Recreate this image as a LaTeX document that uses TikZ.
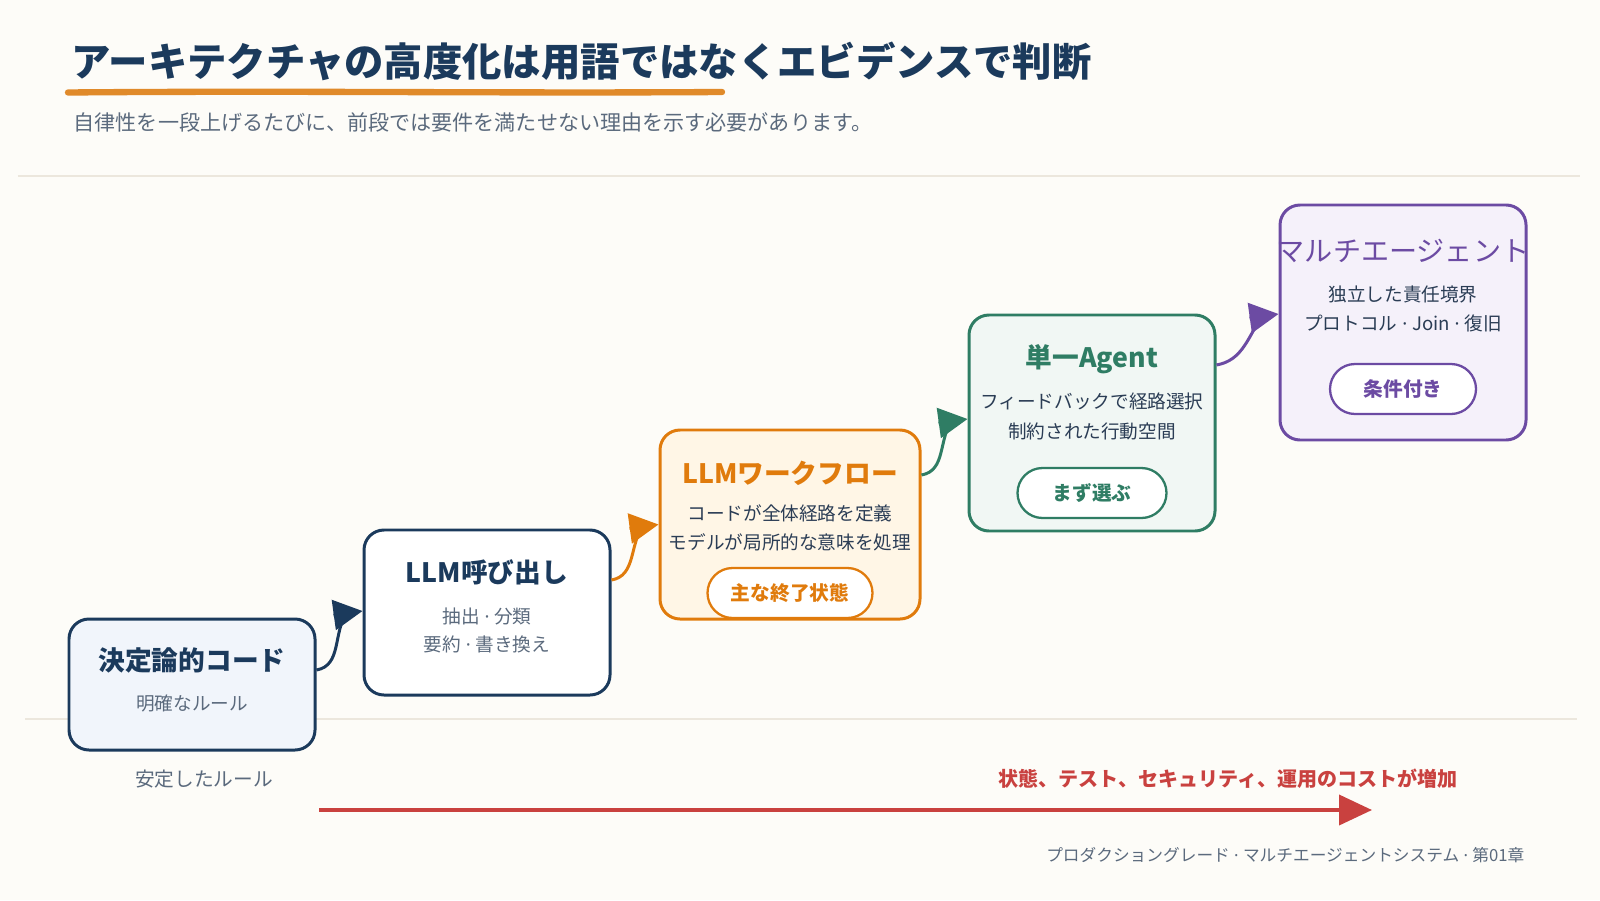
\documentclass[tikz,border=0pt]{standalone}
\usepackage{fontspec}
\setmainfont{Noto Sans CJK JP}
\newfontfamily\latinfont{Noto Sans}
\usetikzlibrary{arrows.meta}

\definecolor{bgpaper}{HTML}{FDFCF8}
\definecolor{navy}{HTML}{1B3A5C}
\definecolor{slate}{HTML}{5B6A7D}
\definecolor{inkblue}{HTML}{2B3D55}
\definecolor{amber}{HTML}{E07B0C}
\definecolor{amberfill}{HTML}{FFF6E6}
\definecolor{pine}{HTML}{2F7D64}
\definecolor{pinefill}{HTML}{F1F7F4}
\definecolor{grape}{HTML}{6C4BA3}
\definecolor{grapefill}{HTML}{F5F1FA}
\definecolor{icefill}{HTML}{F1F5FB}
\definecolor{brick}{HTML}{C9413F}
\definecolor{rulegray}{HTML}{ECE7DD}
\definecolor{brush}{HTML}{E08A2A}

\newcommand{\sep}{{\latinfont\ ·\ }}

\tikzset{
  stage/.style={draw,line width=0.85pt,rounded corners=2mm,minimum width=2.46cm},
  stagetitle/.style={font=\fontsize{7.6}{9}\selectfont\bfseries},
  stagetext/.style={font=\fontsize{5.3}{6.5}\selectfont},
  pill/.style={draw,fill=white,line width=0.65pt,rounded corners=2.5mm,minimum height=0.5cm,
    font=\fontsize{5.6}{7}\selectfont\bfseries},
  link/.style={line width=0.85pt},
  linkhead/.style={line width=0.85pt,-{Triangle[length=2.9mm,width=3mm]}},
}

\begin{document}
\begin{tikzpicture}
  \fill[bgpaper] (0,0) rectangle (16,9);
  \useasboundingbox (0,0) rectangle (16,9);

  % heading
  \node[anchor=west,inner sep=0,text=navy,font=\fontsize{11.2}{13}\selectfont\bfseries] (heading) at (0.71,8.39)
    {アーキテクチャの高度化は用語ではなくエビデンスで判断};
  \draw[brush,line width=1.8pt,line cap=round] (0.68,8.075) .. controls (3,8.095) and (5,8.065) .. (7.22,8.08);
  \node[anchor=west,inner sep=0,text=slate,font=\fontsize{6}{7}\selectfont] (lede) at (0.73,7.78)
    {自律性を一段上げるたびに、前段では要件を満たせない理由を示す必要があります。};
  \draw[rulegray,line width=0.5pt] (0.18,7.24) -- (15.80,7.24);
  \draw[rulegray,line width=0.5pt] (0.25,1.81) -- (15.77,1.81);

  % stages
  \node[stage,draw=navy,fill=icefill,minimum height=1.31cm] (code) at (1.92,2.155) {};
  \node[stagetitle,text=navy] (codeT) at (1.92,2.40) {決定論的コード};
  \node[stagetext,text=slate] (codeA) at (1.92,1.97) {明確なルール};

  \node[stage,draw=navy,fill=white,minimum height=1.65cm] (call) at (4.87,2.875) {};
  \node[stagetitle,text=navy] (callT) at (4.87,3.28) {LLM呼び出し};
  \node[stagetext,text=slate] (callA) at (4.87,2.84) {抽出\sep 分類};
  \node[stagetext,text=slate] (callB) at (4.87,2.56) {要約\sep 書き換え};

  \node[stage,draw=amber,fill=amberfill,minimum width=2.6cm,minimum height=1.89cm] (flow) at (7.90,3.755) {};
  \node[stagetitle,text=amber] (flowT) at (7.90,4.27) {LLMワークフロー};
  \node[stagetext,text=inkblue] (flowA) at (7.90,3.87) {コードが全体経路を定義};
  \node[stagetext,text=inkblue] (flowB) at (7.90,3.58) {モデルが局所的な意味を処理};
  \node[pill,draw=amber,text=amber,minimum width=1.65cm] (flowP) at (7.90,3.07) {主な終了状態};

  \node[stage,draw=pine,fill=pinefill,minimum height=2.16cm] (agent) at (10.92,4.77) {};
  \node[stagetitle,text=pine] (agentT) at (10.92,5.41) {単一Agent};
  \node[stagetext,text=inkblue] (agentA) at (10.92,4.99) {フィードバックで経路選択};
  \node[stagetext,text=inkblue] (agentB) at (10.92,4.69) {制約された行動空間};
  \node[pill,draw=pine,text=pine,minimum width=1.49cm] (agentP) at (10.92,4.07) {まず選ぶ};

  \node[stage,draw=grape,fill=grapefill,minimum height=2.35cm] (multi) at (14.03,5.775) {};
  \node[text=grape,font=\fontsize{8}{10}\selectfont] (multiT) at (14.03,6.49) {マルチエージェント};
  \node[stagetext,text=inkblue] (multiA) at (14.03,6.06) {独立した責任境界};
  \node[stagetext,text=inkblue] (multiB) at (14.03,5.77) {プロトコル\sep Join\sep 復旧};
  \node[pill,draw=grape,text=grape,minimum width=1.46cm] (multiP) at (14.03,5.11) {条件付き};

  % links
  \draw[link,navy] ([yshift=1.45mm]code.east) to[out=10,in=235] ([xshift=-1.5mm,yshift=0.15mm]call.west);
  \draw[linkhead,navy] ([xshift=-2.9mm,yshift=-0.25mm]call.west) -- ([yshift=0.15mm]call.west);
  \draw[link,amber] ([yshift=3.25mm]call.east) to[out=10,in=235] ([xshift=-1.5mm]flow.west);
  \draw[linkhead,amber] ([xshift=-2.9mm,yshift=-0.4mm]flow.west) -- (flow.west);
  \draw[link,pine] ([yshift=4.95mm]flow.east) to[out=10,in=235] ([xshift=-1.5mm,yshift=0.4mm]agent.west);
  \draw[linkhead,pine] ([xshift=-2.9mm]agent.west) -- ([yshift=0.4mm]agent.west);
  \draw[link,grape] ([yshift=5.8mm]agent.east) to[out=10,in=235] ([xshift=-1.5mm,yshift=0.85mm]multi.west);
  \draw[linkhead,grape] ([xshift=-2.9mm,yshift=0.45mm]multi.west) -- ([yshift=0.85mm]multi.west);

  % cost axis
  \node[text=slate,font=\fontsize{5.6}{7}\selectfont] (stable) at (2.04,1.21) {安定したルール};
  \node[text=brick,font=\fontsize{5.7}{7}\selectfont\bfseries] (cost) at (12.28,1.21)
    {状態、テスト、セキュリティ、運用のコストが増加};
  \coordinate (costL) at (3.19,0.90);
  \coordinate (costR) at (13.72,0.90);
  \draw[brick,line width=1.1pt,-{Triangle[length=3.3mm,width=3mm]}] (costL) -- (costR);

  \node[anchor=east,inner sep=0,text=slate,font=\fontsize{4.75}{6}\selectfont] (footer) at (15.25,0.45)
    {プロダクショングレード\sep マルチエージェントシステム\sep 第01章};
\end{tikzpicture}
\end{document}
